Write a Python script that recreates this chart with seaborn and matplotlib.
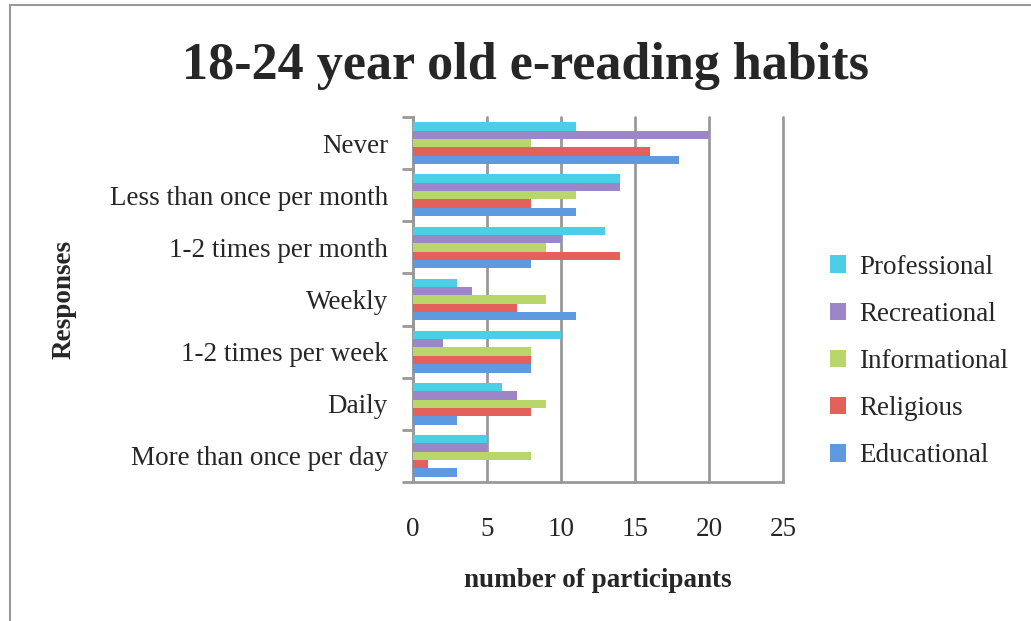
import pandas as pd
import seaborn as sns
import matplotlib.pyplot as plt
from matplotlib.patches import Rectangle

responses = ["Never", "Less than once per month", "1-2 times per month", "Weekly",
             "1-2 times per week", "Daily", "More than once per day"]
professional = [11, 14, 13, 3, 10, 6, 5]
recreational = [20, 14, 10, 4, 2, 7, 5]
informational = [8, 11, 9, 9, 8, 9, 8]
religious = [16, 8, 14, 7, 8, 8, 1]
educational = [18, 11, 8, 11, 8, 3, 3]

series_names = ["Professional", "Recreational", "Informational", "Religious", "Educational"]
series_vals = [professional, recreational, informational, religious, educational]
colors = ["#4ccfe6", "#9c86c8", "#b9d66a", "#e4605a", "#5f9ae0"]


def build_frame():
    rows = []
    for name, vals in zip(series_names, series_vals):
        for resp, v in zip(responses, vals):
            rows.append({"response": resp, "type": name, "count": v})
    return pd.DataFrame(rows)


def main():
    df = build_frame()
    sns.set_style("white")
    plt.rcParams["font.family"] = ["Liberation Serif", "DejaVu Serif"]
    fs = 19.5

    fig = plt.figure(figsize=(10.31, 6.21), dpi=100)
    ax = fig.add_axes([0.4006, 0.2238, 0.3589, 0.5878])

    sns.barplot(data=df, y="response", x="count", hue="type", order=responses,
                hue_order=series_names, palette=colors, orient="h", width=0.8,
                saturation=1, linewidth=0, ax=ax, zorder=3)

    ax.set_xlim(0, 25)
    ax.set_xticks([0, 5, 10, 15, 20, 25])
    ax.grid(axis="x", color="#999999", linewidth=2)
    ax.set_axisbelow(True)
    for gl in ax.get_xgridlines():
        gl.set_clip_on(False)

    # tick marks between the categories, labels in the middle
    ax.set_yticks([i - 0.5 for i in range(len(responses) + 1)], minor=True)
    ax.tick_params(axis="y", which="minor", length=8, width=2, color="#999999", left=True)
    ax.tick_params(axis="y", which="major", length=0, pad=18, labelsize=fs)
    ax.tick_params(axis="x", which="major", length=0, pad=25, labelsize=fs)

    for side in ["top", "right"]:
        ax.spines[side].set_visible(False)
    for side in ["left", "bottom"]:
        ax.spines[side].set_color("#999999")
        ax.spines[side].set_linewidth(2)

    ax.set_xlabel("number of participants", fontsize=fs, fontweight="bold", labelpad=19)
    ax.set_ylabel("Responses", fontsize=fs, fontweight="bold")
    ax.yaxis.set_label_coords(-0.91, 0.5)

    fig.suptitle("18-24 year old e-reading habits", fontsize=37.5, fontweight="bold",
                 x=0.51, y=0.932)

    ax.legend(title=None, frameon=False, fontsize=fs, loc="center left",
              bbox_to_anchor=(1.06, 0.33), handlelength=0.6, handleheight=0.6,
              labelspacing=0.82, handletextpad=0.5)

    fig.patches.append(Rectangle((10 / 1031, -0.1), 1.2, 1 - 5 / 621 + 0.1,
                                 transform=fig.transFigure, fill=False,
                                 edgecolor="#999999", linewidth=1.5))

    fig.savefig("out.png", dpi=100)


if __name__ == "__main__":
    main()
